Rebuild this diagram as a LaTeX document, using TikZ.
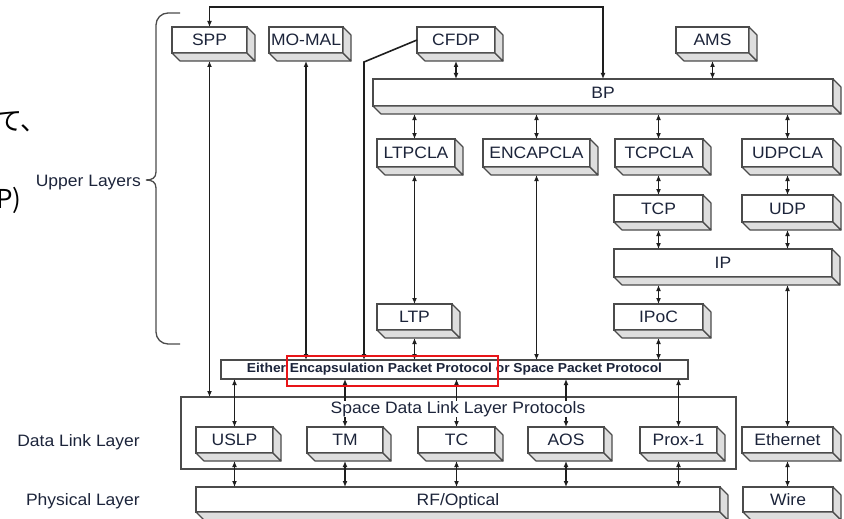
\documentclass[tikz,border=0pt]{standalone}
\usepackage{fontspec}
\setmainfont{Liberation Sans}[FakeStretch=1.06]
\newfontfamily\jpfont{Noto Sans CJK JP}
\usetikzlibrary{arrows.meta,calc}
\definecolor{txt}{RGB}{28,36,58}
\definecolor{ln}{RGB}{30,30,30}
\definecolor{bx}{RGB}{75,75,75}
\definecolor{face}{RGB}{222,222,222}
\definecolor{hlred}{RGB}{232,20,24}
\begin{document}
\begin{tikzpicture}[x=1pt,y=-1pt,
  lbl/.style={font=\fontsize{16.5}{18}\selectfont, text=txt},
  xbox/.style={draw=bx, fill=white, line width=1.3pt, inner sep=0pt, outer sep=0pt, lbl, text height=11.8pt, text depth=0pt},
  flat/.style={draw=bx, fill=white, line width=1.2pt, inner sep=0pt, outer sep=0pt},
  facestyle/.style={draw=bx, fill=face, line width=1.1pt, line join=round},
  conn/.style={draw=ln, line width=1.6pt},
  dbl/.style={conn, {Latex[length=6pt,width=5pt]}-{Latex[length=6pt,width=5pt]}},
  sgl/.style={conn, -{Latex[length=6pt,width=5pt]}},
  brace/.style={draw=bx, line width=1.3pt},
  jp/.style={font=\jpfont\fontsize{26}{28}\selectfont, text=black, inner sep=0pt, anchor=base west}
]
\useasboundingbox (0,0) rectangle (844,519);

% left fragments and labels
\node[jp] (jp1) at (-4,130) {て、};
\node[jp] (jp2) at (-4,208) {P)};
\node[lbl, anchor=base east, inner sep=0pt] (ul) at (141,186) {Upper Layers};
\node[lbl, anchor=base east, inner sep=0pt] (dll) at (140,446) {Data Link Layer};
\node[lbl, anchor=base east, inner sep=0pt] (pl) at (140,505) {Physical Layer};
\draw[brace] (180,13) [rounded corners=12pt] -- (156,13) -- (156,60) [sharp corners] -- (156,172)
  .. controls (156,178) and (152,180) .. (146,180)
  .. controls (152,180) and (156,182) .. (156,188) -- (156,300) [rounded corners=12pt] -- (156,344) -- (180,344);

% containers
\node[flat, minimum width=555pt, minimum height=72pt] (cont) at (458.5,433) {};
\node[flat, minimum width=467pt, minimum height=19pt, font=\bfseries\fontsize{13}{14}\selectfont, text=txt] (bar) at (454.5,369.5) {Either Encapsulation Packet Protocol or Space Packet Protocol};

% boxes
\node[xbox, minimum width=75pt, minimum height=26pt] (spp) at (209.5,40) {SPP};
\node[xbox, minimum width=74pt, minimum height=26pt] (momal) at (306,40) {MO-MAL};
\node[xbox, minimum width=78pt, minimum height=26pt] (cfdp) at (456,40) {CFDP};
\node[xbox, minimum width=73pt, minimum height=26pt] (ams) at (712.5,40) {AMS};
\node[xbox, minimum width=460pt, minimum height=27pt] (bp) at (603,92.5) {BP};
\node[xbox, minimum width=78pt, minimum height=28pt] (ltpcla) at (416,153) {LTPCLA};
\node[xbox, minimum width=107pt, minimum height=28pt] (encapcla) at (536.5,153) {ENCAPCLA};
\node[xbox, minimum width=88pt, minimum height=28pt] (tcpcla) at (659,153) {TCPCLA};
\node[xbox, minimum width=91pt, minimum height=28pt] (udpcla) at (787.5,153) {UDPCLA};
\node[xbox, minimum width=89pt, minimum height=27pt] (tcp) at (658.5,208.5) {TCP};
\node[xbox, minimum width=91pt, minimum height=27pt] (udp) at (787.5,208.5) {UDP};
\node[xbox, minimum width=218pt, minimum height=28pt] (ip) at (723,263) {IP};
\node[xbox, minimum width=75pt, minimum height=26pt] (ltp) at (414.5,317) {LTP};
\node[xbox, minimum width=89pt, minimum height=26pt] (ipoc) at (658.5,317) {IPoC};
\node[xbox, minimum width=77pt, minimum height=26pt] (uslp) at (234.5,440) {USLP};
\node[xbox, minimum width=76pt, minimum height=26pt] (tm) at (345,440) {TM};
\node[xbox, minimum width=77pt, minimum height=26pt] (tc) at (456.5,440) {TC};
\node[xbox, minimum width=76pt, minimum height=26pt] (aos) at (566,440) {AOS};
\node[xbox, minimum width=77pt, minimum height=26pt] (prox) at (678.5,440) {Prox-1};
\node[xbox, minimum width=91pt, minimum height=26pt] (eth) at (787.5,440) {Ethernet};
\node[xbox, minimum width=524pt, minimum height=25pt] (rf) at (458,499.5) {RF/Optical};
\node[xbox, minimum width=90pt, minimum height=25pt] (wire) at (788,499.5) {Wire};

\foreach \n in {spp,momal,cfdp,ams,bp,ltpcla,encapcla,tcpcla,udpcla,tcp,udp,ip,ltp,ipoc,uslp,tm,tc,aos,prox,eth,rf,wire}{
  \draw[facestyle] (\n.south west) -- ([shift={(8,8)}]\n.south west) -- ([shift={(8,8)}]\n.south east) -- (\n.south east) -- cycle;
  \draw[facestyle] (\n.south east) -- ([shift={(8,8)}]\n.south east) -- ([shift={(8,8)}]\n.north east) -- (\n.north east) -- cycle;
}

% connectors
\coordinate (topbend) at (0,7);
\coordinate (cfbend) at (364,62);
\draw[dbl] (spp.north) |- (topbend -| bp.north) -- (bp.north);
\draw[dbl] ($(spp.south)+(0,8)$) -- (spp.south |- cont.north);
\draw[dbl] ($(momal.south)+(0,8)$) -- (momal.south |- bar.north);
\draw[sgl] (cfdp.west) -- (cfbend) -- (cfbend |- bar.north);
\draw[dbl] ($(cfdp.south)+(0,8)$) -- (cfdp.south |- bp.north);
\draw[dbl] ($(ams.south)+(0,8)$) -- (ams.south |- bp.north);
\draw[dbl] ($(ltp.north |- bp.south)+(0,8)$) -- (ltp.north |- ltpcla.north);
\draw[dbl] ($(encapcla.north |- bp.south)+(0,8)$) -- (encapcla.north);
\draw[dbl] ($(tcp.north |- bp.south)+(0,8)$) -- (tcp.north |- tcpcla.north);
\draw[dbl] ($(udp.north |- bp.south)+(0,8)$) -- (udp.north |- udpcla.north);
\draw[dbl] ($(ltp.north |- ltpcla.south)+(0,8)$) -- (ltp.north);
\draw[dbl] ($(encapcla.south)+(0,8)$) -- (encapcla.south |- bar.north);
\draw[dbl] ($(tcp.north |- tcpcla.south)+(0,8)$) -- (tcp.north);
\draw[dbl] ($(udp.north |- udpcla.south)+(0,8)$) -- (udp.north);
\draw[dbl] ($(tcp.south)+(0,8)$) -- (tcp.south |- ip.north);
\draw[dbl] ($(udp.south)+(0,8)$) -- (udp.south |- ip.north);
\draw[dbl] ($(ipoc.north |- ip.south)+(0,8)$) -- (ipoc.north);
\draw[dbl] ($(eth.north |- ip.south)+(0,8)$) -- (eth.north);
\draw[dbl] ($(ltp.south)+(0,8)$) -- (ltp.south |- bar.north);
\draw[dbl] ($(ipoc.south)+(0,8)$) -- (ipoc.south |- bar.north);
\foreach \n in {uslp,tm,tc,aos,prox}{
  \draw[dbl] (\n.north |- bar.south) -- (\n.north);
  \draw[dbl] ($(\n.south)+(0,8)$) -- (\n.south |- rf.north);
}
\draw[dbl] ($(eth.south)+(0,8)$) -- (eth.south |- wire.north);

\node[lbl, fill=white, inner sep=0.5pt, text height=12pt, text depth=3.5pt, anchor=base] (sdltitle) at (458,413) {Space Data Link Layer Protocols};

\node[draw=hlred, line width=2pt, minimum width=211pt, minimum height=30pt, inner sep=0pt] (hl) at (392.5,371) {};
\end{tikzpicture}
\end{document}
